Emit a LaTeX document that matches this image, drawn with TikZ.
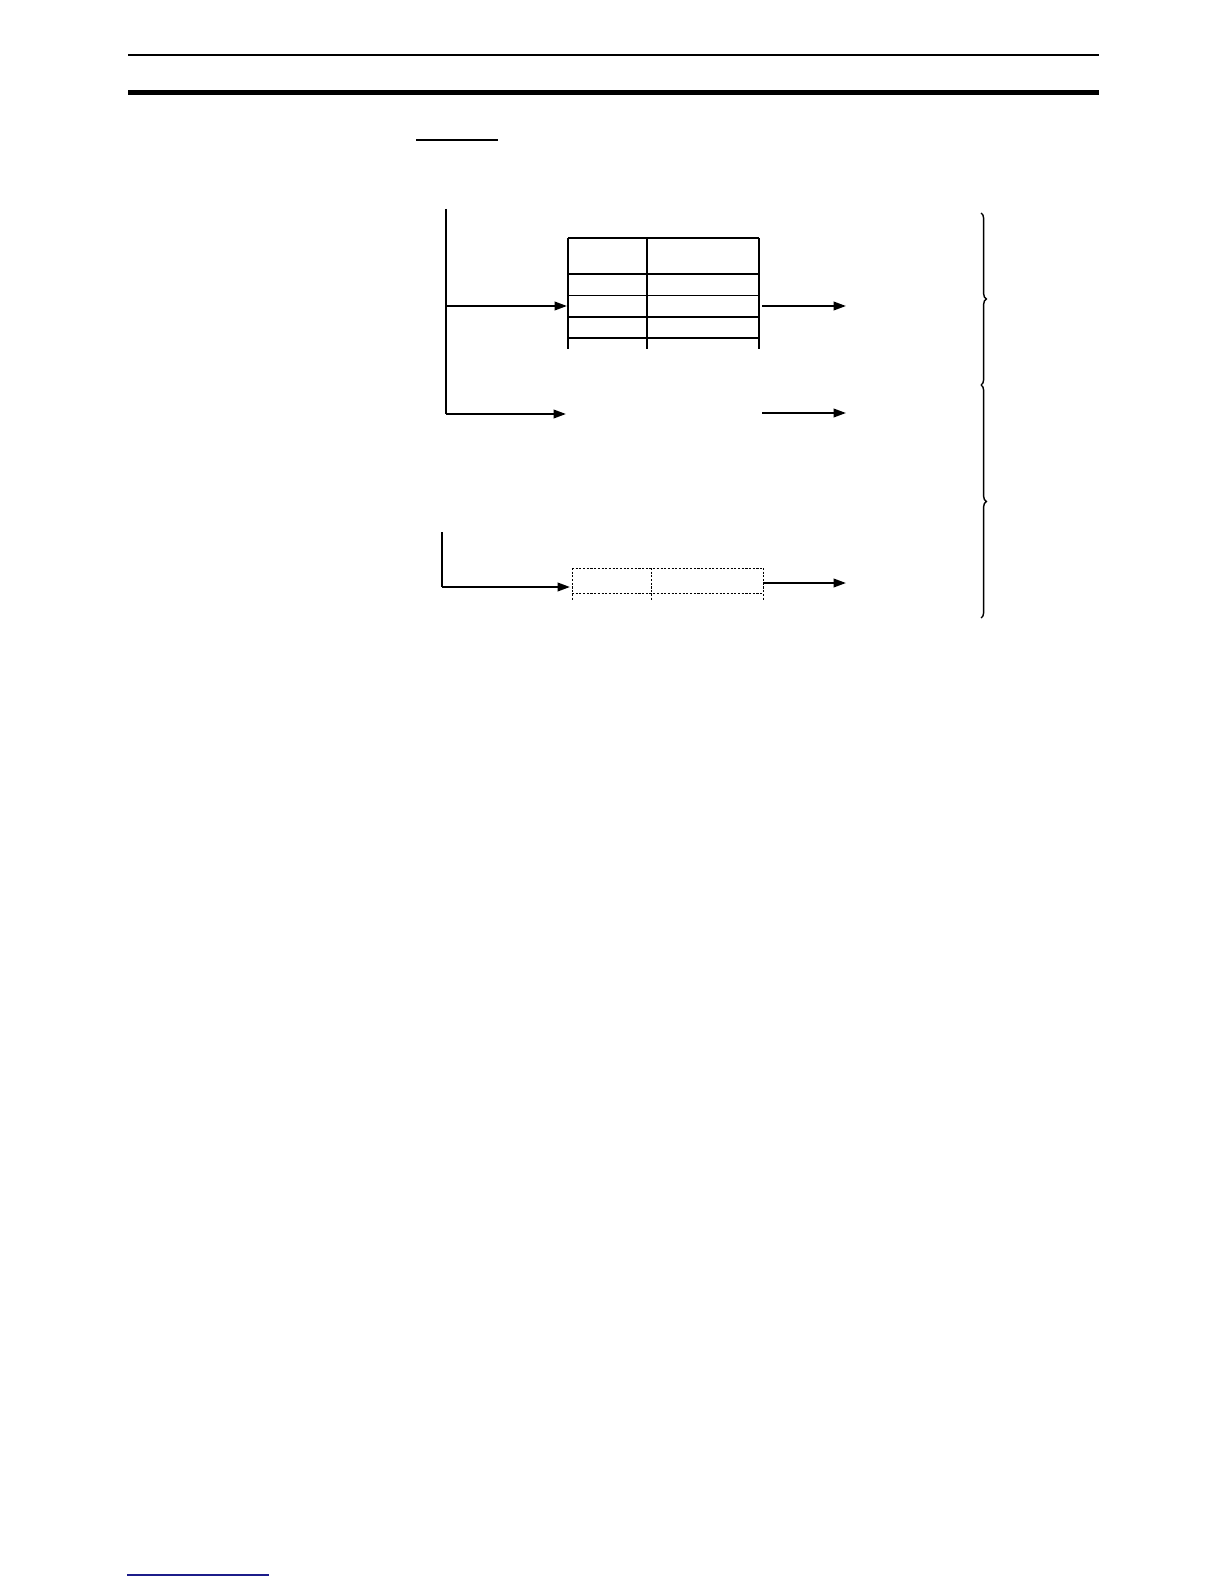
\documentclass[tikz,border=0pt]{standalone}
\usepackage{xcolor}
\usepackage{tikz}
\usetikzlibrary{arrows.meta,decorations.pathreplacing}
\definecolor{mnavy}{HTML}{1C1C8A}

\tikzset{
  flow/.style={line width=1.2pt, -{Triangle[length=7pt,width=4.8pt]}},
  bus/.style={line width=1.4pt},
  grid/.style={line width=0.8pt},
  dgrid/.style={line width=0.5pt, dash pattern=on 1.2pt off 0.9pt},
  rbrace/.style={decorate, decoration={brace, amplitude=3pt}, line width=0.8pt}
}

\begin{document}
\begin{tikzpicture}[x=0.02cm, y=-0.02cm]
            \useasboundingbox (0, 0) rectangle (1224, 1584);

            % page rules
            \draw[line width=1.2pt] (128, 55) -- (1099, 55);
            \draw[line width=2.8pt] (128, 92.5) -- (1099, 92.5);
            \draw[line width=0.8pt] (416, 140) -- (498, 140);
            \draw[mnavy, line width=0.8pt] (127, 1575) -- (269, 1575);

            % upper bus
            \coordinate (busA) at (446, 209);
            \coordinate (busAm) at (446, 306);
            \coordinate (busAb) at (446, 414);
            \coordinate (tabin) at (567, 306);
            \coordinate (tabout) at (762, 306);
            \coordinate (outA) at (846, 306);
            \coordinate (gapin) at (566, 414);
            \coordinate (gapout) at (762, 413);
            \coordinate (outB) at (846, 413);

            \draw[bus] (busA) -- (busAb);
            \draw[flow] (busAm) -- (tabin);
            \draw[flow] (busAb) -- (gapin);
            \draw[flow] (tabout) -- (outA);
            \draw[flow] (gapout) -- (outB);

            % table
            \foreach \x in {568, 647, 759}
              \draw[grid] (\x, 238) -- (\x, 349);
            \foreach \y in {238, 274, 295.5, 317, 338}
              \draw[grid] (568, \y) -- (759, \y);

            % lower bus
            \coordinate (busB) at (442, 532);
            \coordinate (busBb) at (442, 587);
            \coordinate (dboxin) at (570, 587);
            \coordinate (dboxout) at (763, 583);
            \coordinate (outC) at (846, 583);

            \draw[bus] (busB) -- (busBb);
            \draw[flow] (busBb) -- (dboxin);
            \draw[flow] (dboxout) -- (outC);

            % dotted record
            \foreach \x in {572, 651, 763}
              \draw[dgrid] (\x, 568) -- (\x, 601);
            \foreach \y in {568, 593}
              \draw[dgrid] (572, \y) -- (763, \y);

            % braces
            \draw[rbrace] (981, 213) -- (981, 385);
            \draw[rbrace] (981, 385) -- (981, 618);

          \end{tikzpicture}
\end{document}
